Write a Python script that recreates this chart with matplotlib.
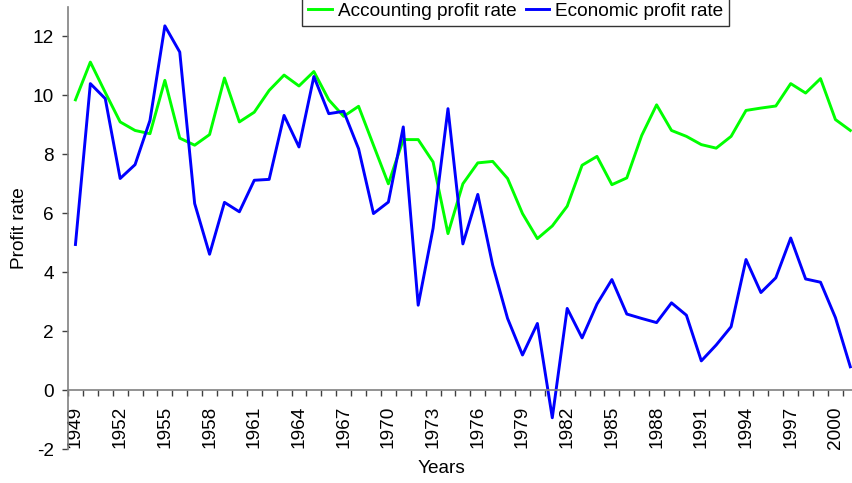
import numpy as np
import matplotlib
matplotlib.use('Agg')
import matplotlib.pyplot as plt
from matplotlib.ticker import FixedLocator

plt.rcParams['font.family'] = ['Liberation Sans', 'DejaVu Sans']
plt.rcParams['font.size'] = 13.7
plt.rcParams['axes.unicode_minus'] = False

# ==================== data ====================
years = np.arange(1949, 2002)

accounting = [9.85, 11.13, 10.10, 9.10, 8.81, 8.70, 10.51, 8.55, 8.31, 8.67,
              10.59, 9.10, 9.43, 10.17, 10.69, 10.32, 10.81, 9.85, 9.29, 9.63,
              8.31, 7.00, 8.50, 8.50, 7.74, 5.31, 7.00, 7.71, 7.76, 7.18,
              5.99, 5.14, 5.57, 6.24, 7.63, 7.93, 6.97, 7.20, 8.64, 9.68,
              8.81, 8.61, 8.33, 8.21, 8.61, 9.49, 9.57, 9.64, 10.40, 10.08,
              10.57, 9.18, 8.81]

economic = [4.94, 10.40, 9.89, 7.18, 7.65, 9.15, 12.36, 11.47, 6.33, 4.61,
            6.37, 6.05, 7.12, 7.15, 9.32, 8.25, 10.64, 9.38, 9.46, 8.19,
            5.99, 6.38, 8.93, 2.88, 5.49, 9.55, 4.96, 6.64, 4.24, 2.43,
            1.19, 2.26, -0.94, 2.77, 1.77, 2.92, 3.75, 2.58, 2.43, 2.29,
            2.96, 2.54, 0.99, 1.53, 2.15, 4.43, 3.31, 3.81, 5.16, 3.77,
            3.66, 2.46, 0.79]

label_years = list(range(1949, 2001, 3))

# ==================== figure ====================
fig = plt.figure(figsize=(8.53, 4.83), dpi=100)
ax = fig.add_axes([68 / 853, 34 / 483, 785 / 853, 442 / 483])

ax.plot(years, accounting, color='#00FF00', linewidth=2.1, label='Accounting profit rate')
ax.plot(years, economic, color='#0000FF', linewidth=2.1, label='Economic profit rate')

ax.set_xlim(1948.5, 2001.18)
ax.set_ylim(-2, 13)

# axes look
for s in ['top', 'right']:
    ax.spines[s].set_visible(False)
ax.spines['bottom'].set_position(('data', 0))
for s in ['left', 'bottom']:
    ax.spines[s].set_color('#808080')
    ax.spines[s].set_linewidth(1.2)

ax.yaxis.set_major_locator(FixedLocator(np.arange(-2, 13, 2)))
ax.tick_params(axis='y', direction='out', length=4.3, width=1, color='#404040', pad=6)

# labels at category centres, tick marks between categories
ax.xaxis.set_major_locator(FixedLocator(label_years))
ax.xaxis.set_minor_locator(FixedLocator(np.arange(1948.5, 2001.6, 1)))
ax.set_xticklabels([str(y) for y in label_years], rotation=90, va='top')
ax.tick_params(axis='x', which='major', length=0, pad=11.5)
ax.tick_params(axis='x', which='minor', direction='out', length=4, width=1, color='#404040')

ax.set_ylabel('Profit rate')
ax.yaxis.set_label_coords(-0.0615, 0.5)
ax.yaxis.label.set_va('center')
ax.yaxis.label.set_rotation_mode('default')
ax.set_xlabel('Years')
ax.xaxis.set_label_coords(0.476, -0.043)
ax.xaxis.label.set_va('center')

leg = ax.legend(loc='lower center', bbox_to_anchor=(515.7 / 853, (483 - 25.7) / 483),
                bbox_transform=fig.transFigure, ncol=2, frameon=True, fancybox=False,
                handlelength=1.25, handletextpad=0.3, columnspacing=0.5,
                borderpad=0.3, borderaxespad=0)
leg.get_frame().set_edgecolor('black')
leg.get_frame().set_linewidth(1)

fig.savefig('out.png', dpi=100)
